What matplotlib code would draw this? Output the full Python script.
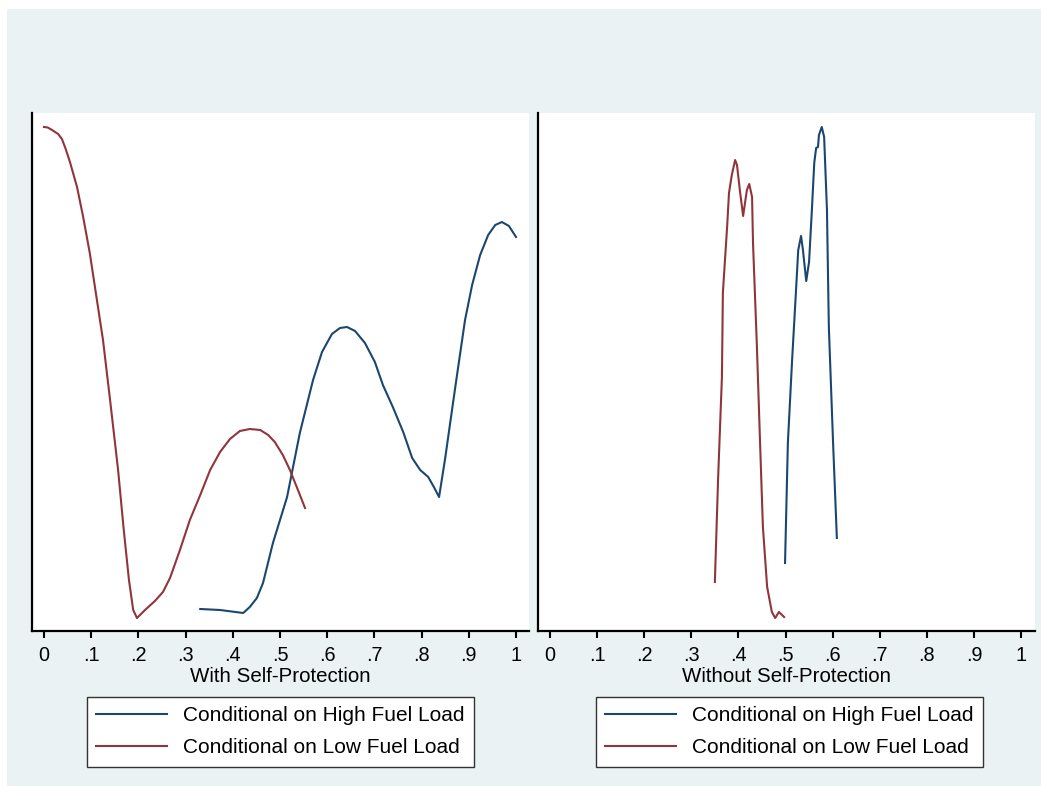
import matplotlib
matplotlib.use("Agg")
import matplotlib.pyplot as plt
from matplotlib.patches import Rectangle

plt.rcParams['font.family'] = ['Liberation Sans', 'DejaVu Sans']

# Left panel: with self-protection
with_low_x = [0.000, 0.008, 0.017, 0.030, 0.038, 0.046, 0.055, 0.070, 0.083, 0.097,
              0.125, 0.140, 0.157, 0.169, 0.180, 0.189, 0.197, 0.214, 0.235, 0.252,
              0.267, 0.288, 0.309, 0.331, 0.352, 0.373, 0.394, 0.415, 0.436, 0.458,
              0.475, 0.489, 0.506, 0.521, 0.538, 0.553]
with_low_y = [5.03, 5.025, 5.00, 4.96, 4.91, 4.81, 4.68, 4.43, 4.13, 3.77,
              2.90, 2.30, 1.60, 1.00, 0.50, 0.20, 0.12, 0.20, 0.29, 0.38,
              0.52, 0.80, 1.10, 1.35, 1.60, 1.78, 1.91, 1.99, 2.01, 2.00,
              1.95, 1.88, 1.75, 1.60, 1.40, 1.22]

with_high_x = [0.331, 0.373, 0.422, 0.436, 0.451, 0.464, 0.485, 0.515, 0.542, 0.570,
               0.589, 0.610, 0.627, 0.642, 0.659, 0.680, 0.701, 0.718, 0.739, 0.761,
               0.780, 0.797, 0.814, 0.826, 0.837, 0.850, 0.862, 0.875, 0.892, 0.907,
               0.924, 0.941, 0.956, 0.970, 0.985, 1.000]
with_high_y = [0.21, 0.20, 0.17, 0.23, 0.32, 0.47, 0.87, 1.33, 1.97, 2.50,
               2.78, 2.96, 3.02, 3.03, 2.99, 2.87, 2.68, 2.45, 2.23, 1.98,
               1.72, 1.60, 1.53, 1.43, 1.33, 1.72, 2.12, 2.55, 3.10, 3.45,
               3.75, 3.95, 4.05, 4.08, 4.04, 3.93]

# Right panel: without self-protection
without_low_x = [0.350, 0.357, 0.365, 0.367, 0.376, 0.380, 0.386, 0.393, 0.397, 0.403,
                 0.410, 0.418, 0.423, 0.429, 0.431, 0.439, 0.446, 0.452, 0.461, 0.471,
                 0.478, 0.486, 0.497]
without_low_y = [0.48, 1.53, 2.53, 3.37, 4.03, 4.37, 4.55, 4.70, 4.65, 4.40,
                 4.14, 4.40, 4.46, 4.33, 3.87, 2.87, 1.87, 1.03, 0.43, 0.18,
                 0.12, 0.18, 0.13]

without_high_x = [0.499, 0.505, 0.514, 0.522, 0.527, 0.533, 0.537, 0.544, 0.550, 0.556,
                  0.561, 0.565, 0.569, 0.571, 0.577, 0.582, 0.588, 0.592, 0.601, 0.609]
without_high_y = [0.67, 1.87, 2.70, 3.37, 3.80, 3.94, 3.80, 3.49, 3.68, 4.20,
                  4.67, 4.82, 4.83, 4.95, 5.03, 4.93, 4.20, 3.03, 1.87, 0.92]

ticks = [0, .1, .2, .3, .4, .5, .6, .7, .8, .9, 1]
tick_labels = ['0', '.1', '.2', '.3', '.4', '.5', '.6', '.7', '.8', '.9', '1']
labels = ['Conditional on High Fuel Load', 'Conditional on Low Fuel Load']

navy = '#1a476f'
maroon = '#90353b'
bg = '#eaf2f3'

W, H = 1041, 786
fig = plt.figure(figsize=(W / 100, H / 100), dpi=100, facecolor='white')
fig.add_artist(Rectangle((7 / W, 0), 1, 1 - 9 / H, transform=fig.transFigure,
                         facecolor=bg, edgecolor='none', zorder=-10))

panels = [
    (32, 529, -0.0254, 1.0275, with_high_x, with_high_y, with_low_x, with_low_y,
     'With Self-Protection', 87),
    (538, 1035, -0.0255, 1.0297, without_high_x, without_high_y, without_low_x, without_low_y,
     'Without Self-Protection', 596),
]

for x0, x1, xl, xr, hx, hy, lx, ly, title, leg_x in panels:
    ax = fig.add_axes([x0 / W, (H - 631) / H, (x1 - x0) / W, (631 - 113) / H])
    ax.set_facecolor('white')
    l1, = ax.plot(hx, hy, color=navy, lw=1.5)
    l2, = ax.plot(lx, ly, color=maroon, lw=1.5)
    ax.set_xlim(xl, xr)
    ax.set_ylim(-0.01, 5.17)
    ax.set_xticks(ticks)
    ax.set_xticklabels(tick_labels, fontsize=14.3)
    ax.set_yticks([])
    ax.tick_params(axis='x', length=5, width=1.5, pad=5.5, color='black')
    for s in ['top', 'right']:
        ax.spines[s].set_visible(False)
    for s in ['left', 'bottom']:
        ax.spines[s].set_linewidth(1.6)
        ax.spines[s].set_color('black')
    ax.set_xlabel(title, fontsize=14.8, labelpad=2)
    leg = fig.legend([l1, l2], labels, loc='upper left',
                     bbox_to_anchor=(leg_x / W, 1 - 697 / H),
                     fontsize=15, frameon=True, fancybox=False, shadow=False,
                     handlelength=3.4, handletextpad=0.75, labelspacing=0.62,
                     borderpad=0.45, borderaxespad=0)
    leg.get_frame().set_edgecolor('#333333')
    leg.get_frame().set_linewidth(1.0)
    leg.get_frame().set_facecolor('white')
    leg.get_frame().set_alpha(1)

fig.savefig('out.png', dpi=100, facecolor=fig.get_facecolor())
